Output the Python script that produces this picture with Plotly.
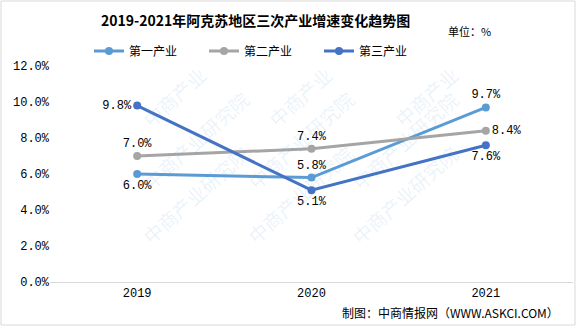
import plotly.graph_objects as go

# Growth rates of the three industries, Aksu Prefecture
years = ["2019", "2020", "2021"]
primary = [6.0, 5.8, 9.7]
secondary = [7.0, 7.4, 8.4]
tertiary = [9.8, 5.1, 7.6]
series_names = ["第一产业", "第二产业", "第三产业"]
y_ticks = [0, 2, 4, 6, 8, 10, 12]

W, H = 581, 327
ML, MR, MT, MB = 50, 8, 66, 45

colors = ["#5B9BD5", "#A5A5A5", "#4472C4"]
label_pos = [
    ["bottom center", "top center", "top center"],
    ["top center", "top center", "middle right"],
    ["middle left", "bottom center", "bottom center"],
]
num_font = dict(family="Liberation Mono, DejaVu Sans Mono", size=12, color="#000000")
cjk = "Noto Sans CJK SC"

fig = go.Figure()
for name, vals, col, pos in zip(series_names, [primary, secondary, tertiary], colors, label_pos):
    fig.add_trace(go.Scatter(
        x=years, y=vals, name=name, mode="lines+markers+text",
        line=dict(color=col, width=3),
        marker=dict(color=col, size=8),
        text=[f"{v:.1f}%" for v in vals],
        textposition=pos,
        textfont=num_font,
        cliponaxis=False,
    ))

# pixel -> paper helpers for free-placed text
def px(x):
    return (x - ML) / (W - ML - MR)

def py(y):
    return (H - MB - y) / (H - MT - MB)

annotations = []
# faint tiled watermark
for cx in [134, 300, 466]:
    for cy in [140, 252]:
        annotations.append(dict(
            x=px(cx), y=py(cy), xref="paper", yref="paper",
            text="中商产业研究院", showarrow=False, textangle=-42,
            font=dict(family=cjk, size=19, color="rgba(91,155,213,0.13)"),
        ))
for cx in [134, 300, 466]:
    annotations.append(dict(
        x=px(cx), y=py(58), xref="paper", yref="paper",
        text="中商产业", showarrow=False, textangle=-42,
        font=dict(family=cjk, size=19, color="rgba(91,155,213,0.13)"),
    ))

annotations += [
    dict(x=px(255), y=py(20), xref="paper", yref="paper", text="<b>2019-2021年阿克苏地区三次产业增速变化趋势图</b>",
         showarrow=False, font=dict(family=cjk, size=14, color="#000000"), xanchor="center", yanchor="middle"),
    dict(x=px(469), y=py(31), xref="paper", yref="paper", text="单位：%",
         showarrow=False, font=dict(family=cjk, size=11, color="#000000"), xanchor="center", yanchor="middle"),
    dict(x=px(450), y=py(312), xref="paper", yref="paper", text="制图：中商情报网（WWW.ASKCI.COM）",
         showarrow=False, font=dict(family=cjk, size=12, color="#000000"), xanchor="center", yanchor="middle"),
]

fig.update_layout(
    width=W, height=H,
    margin=dict(l=ML, r=MR, t=MT, b=MB),
    paper_bgcolor="white", plot_bgcolor="white",
    showlegend=True,
    legend=dict(
        orientation="h", x=px(89), y=py(51), xanchor="left", yanchor="middle",
        font=dict(family=cjk, size=12, color="#000000"),
        entrywidth=70, entrywidthmode="pixels",
        itemwidth=30, bgcolor="rgba(0,0,0,0)",
    ),
    xaxis=dict(
        type="category", showgrid=False, showline=True, linecolor="#D9D9D9", linewidth=1,
        ticks="", tickfont=num_font, range=[-0.5, 2.5], fixedrange=True,
    ),
    yaxis=dict(
        range=[0, 12], tickvals=y_ticks, ticktext=[f"{v:.1f}%" for v in y_ticks],
        showgrid=False, zeroline=False, showline=False, tickfont=num_font, ticks="",
    ),
    annotations=annotations,
    shapes=[dict(type="rect", xref="paper", yref="paper",
                 x0=px(1), x1=px(575), y0=py(325), y1=py(1),
                 line=dict(color="#D9D9D9", width=1), layer="below")],
)

fig.write_html("out.html")
